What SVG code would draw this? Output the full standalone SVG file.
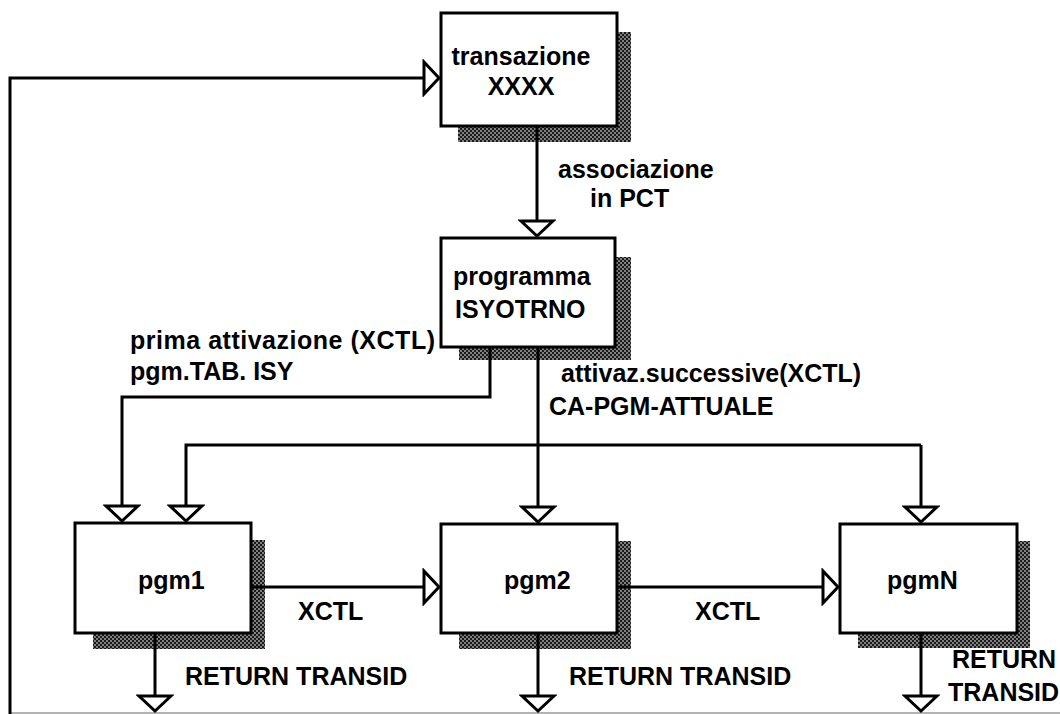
<svg xmlns="http://www.w3.org/2000/svg" width="1060" height="714" viewBox="0 0 1060 714">
<style>
.box{fill:#fff;stroke:#000;stroke-width:3}
.sh{fill:url(#hatch)}
.c{fill:none;stroke:#000;stroke-width:3;marker-end:url(#arr)}
.t{font-family:"Liberation Sans",Arial,sans-serif;font-weight:bold;font-size:25px;fill:#000}
.m{text-anchor:middle}
</style>
<defs>
<pattern id="hatch" width="4" height="4" patternUnits="userSpaceOnUse">
<rect width="4" height="4" fill="#808080"/>
<rect x="0" y="0" width="2" height="2" fill="#1a1a1a"/>
<rect x="2" y="2" width="2" height="2" fill="#1a1a1a"/>
</pattern>
<marker id="arr" viewBox="-18 -19 21 38" refX="0" refY="0" markerWidth="21" markerHeight="38" orient="auto" markerUnits="userSpaceOnUse">
<path d="M-15,-16 L0,0 L-15,16 Z" fill="#fff" stroke="#000" stroke-width="3" stroke-linejoin="miter"/>
</marker>
</defs>
<rect width="1060" height="714" fill="#fff"/>
<line x1="10" y1="713" x2="1060" y2="713" stroke="#9a9a9a" stroke-width="1.5"/>

<g id="n-transazione">
<rect class="sh" x="458" y="32" width="173" height="110"/>
<rect class="box" x="441" y="13" width="176" height="113"/>
<text class="t m" x="521" y="65">transazione</text>
<text class="t m" x="521" y="95">XXXX</text>
</g>
<g id="n-programma">
<rect class="sh" x="459" y="257" width="172" height="103"/>
<rect class="box" x="441" y="238" width="174" height="109"/>
<text class="t" x="453" y="285">programma</text>
<text class="t" x="455" y="318">ISYOTRNO</text>
</g>
<g id="n-pgm1">
<rect class="sh" x="93" y="540" width="172" height="109"/>
<rect class="box" x="75" y="523" width="176" height="110"/>
<text class="t" x="138" y="589">pgm1</text>
</g>
<g id="n-pgm2">
<rect class="sh" x="459" y="541" width="172" height="108"/>
<rect class="box" x="441" y="524" width="176" height="109"/>
<text class="t" x="504" y="589">pgm2</text>
</g>
<g id="n-pgmN">
<rect class="sh" x="858" y="541" width="172" height="107"/>
<rect class="box" x="840" y="524" width="177" height="109"/>
<text class="t" x="887" y="589">pgmN</text>
</g>

<g id="connectors">
<path class="c" d="M10,714 V78 H439"/>
<path class="c" d="M537,127 V236"/>
<path class="c" d="M490,348 V397 H122 V521"/>
<path class="c" d="M538,348 V522"/>
<path class="c" d="M921,445 H186 V521"/>
<path class="c" d="M921,445 V522"/>
<path class="c" d="M252,587 H439"/>
<path class="c" d="M618,587 H838"/>
<path class="c" d="M155,634 V711"/>
<path class="c" d="M538,634 V711"/>
<path class="c" d="M921,634 V711"/>
</g>

<g id="labels">
<text class="t" x="558" y="178">associazione</text>
<text class="t" x="590" y="207">in PCT</text>
<text class="t" x="130" y="349" textLength="305" lengthAdjust="spacing">prima attivazione (XCTL)</text>
<text class="t" x="130" y="380">pgm.TAB. ISY</text>
<text class="t" x="561" y="382">attivaz.successive(XCTL)</text>
<text class="t" x="549" y="415">CA-PGM-ATTUALE</text>
<text class="t" x="298" y="620">XCTL</text>
<text class="t" x="695" y="620">XCTL</text>
<text class="t" x="185" y="685">RETURN TRANSID</text>
<text class="t" x="569" y="685">RETURN TRANSID</text>
<text class="t" x="952" y="668">RETURN</text>
<text class="t" x="948" y="701">TRANSID</text>
</g>
</svg>
